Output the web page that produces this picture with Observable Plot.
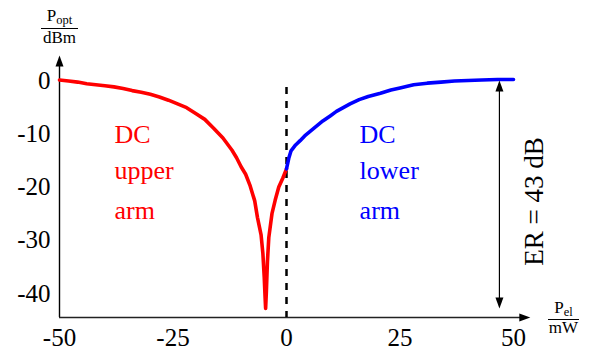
<!DOCTYPE html>
<html>
<head>
<meta charset="utf-8">
<script src="https://cdn.jsdelivr.net/npm/d3@7"></script>
<script src="https://cdn.jsdelivr.net/npm/@observablehq/plot@0.6"></script>
<style>
  html, body { margin: 0; padding: 0; background: #fff; }
  #wrap { position: relative; width: 591px; height: 350px; }
  .lab { position: absolute; width: 50px; text-align: center; font-family: 'Liberation Serif', serif; font-size: 17px; line-height: 17px; color: #000; white-space: nowrap; }
  .lab sub { font-size: 12.5px; vertical-align: -3px; line-height: 0; }
  .bar { position: absolute; height: 0; border-top: 1px solid #000; }
</style>
</head>
<body>
<div id="wrap">
  <div class="lab" style="left:34.5px;top:6.7px">P<sub>opt</sub></div>
  <div class="bar" style="left:41px;top:28px;width:37px"></div>
  <div class="lab" style="left:34.5px;top:28.7px">dBm</div>
  <div class="lab" style="left:538.5px;top:298.7px">P<sub>el</sub></div>
  <div class="bar" style="left:548px;top:318.5px;width:31px"></div>
  <div class="lab" style="left:538.5px;top:318.7px">mW</div>
</div>
<script>
// ---- data ----
const upperX = [-50, -48, -46, -44, -42, -40, -38, -36, -34, -32, -30, -28, -26, -24, -22, -20, -18, -16, -14, -12, -11, -10, -9, -8, -7, -6.4, -5.6, -5.2, -4.9, -4.7, -4.6, -4.45, -4.2, -3.9, -3.2, -2.5, -1.7, -0.8, 0];
const upperY = [0.1, -0.1, -0.3, -0.6, -0.8, -1.0, -1.2, -1.5, -1.9, -2.2, -2.6, -3.1, -3.7, -4.4, -5.1, -6.2, -7.3, -9.0, -10.8, -13.1, -14.5, -16.2, -17.6, -19.8, -22.6, -25.7, -29, -32.5, -37, -41, -42.8, -40, -34, -29.5, -25, -22.5, -20, -18.3, -16.6];
const lowerX = [0, 0.5, 1, 2, 3, 4, 5, 6, 7, 8, 9.7, 11, 12.5, 14, 16, 18, 20.7, 23, 25, 28, 31, 34, 37, 40, 43, 46.5, 50];
const lowerY = [-16.6, -14.6, -13.2, -12.1, -11.3, -10.4, -9.7, -9.0, -8.3, -7.6, -6.6, -5.8, -5.1, -4.4, -3.6, -3.0, -2.4, -1.8, -1.4, -0.8, -0.5, -0.3, -0.1, 0.0, 0.1, 0.2, 0.2];
const xTicks = [-50, -25, 0, 25, 50];
const yTicks = [0, -10, -20, -30, -40];
const upperLabel = ["DC", "upper", "arm"];
const lowerLabel = ["DC", "lower", "arm"];
const labelY = [-10.1, -16.85, -24.35];
const erTop = 0;
const erBottom = -42.8;
const erLabel = "ER = 43 dB";

const upper = upperX.map((x, i) => ({x, y: upperY[i]}));
const lower = lowerX.map((x, i) => ({x, y: lowerY[i]}));

// filled arrow-head symbols (tip at the origin)
const headUp = {draw(c) { c.moveTo(0, 0); c.lineTo(-4, 11); c.lineTo(4, 11); c.closePath(); }};
const headDown = {draw(c) { c.moveTo(0, 0); c.lineTo(-4, -11); c.lineTo(4, -11); c.closePath(); }};
const headRight = {draw(c) { c.moveTo(0, 0); c.lineTo(-11, -4); c.lineTo(-11, 4); c.closePath(); }};

const FONT = "Liberation Serif";
const xMin = -50, yMin = -44.5, yAxisTop = 4.7, xAxisEnd = 53.7;

const chart = Plot.plot({
  width: 591,
  height: 350,
  marginLeft: 59,
  marginRight: 78,
  marginTop: 80,
  marginBottom: 33,
  x: {domain: [-50, 50], ticks: xTicks, tickSize: 0, tickPadding: 11, tickFormat: d => String(d), label: null},
  y: {domain: [yMin, 0], ticks: yTicks, tickSize: 0, tickPadding: 9, tickFormat: d => String(d), label: null},
  marks: [
    // axes lines
    Plot.ruleX([0], {x: xMin, y1: yMin, y2: yAxisTop - 1, stroke: "black", strokeWidth: 1.4}),
    Plot.ruleY([0], {y: yMin, x1: xMin, x2: xAxisEnd - 1, stroke: "#222", strokeWidth: 1.6}),
    Plot.dot([0], {x: xMin, y: yAxisTop, symbol: headUp, fill: "black", stroke: "none"}),
    Plot.dot([0], {x: xAxisEnd, y: yMin, symbol: headRight, fill: "black", stroke: "none"}),
    // dashed line at 0
    Plot.ruleX([0], {x: 0, y1: -1.3, y2: yMin, stroke: "black", strokeWidth: 2.5, strokeDasharray: "7,7"}),
    // curves
    Plot.line(upper, {x: "x", y: "y", stroke: "#ff0000", strokeWidth: 3.6}),
    Plot.line(lower, {x: "x", y: "y", stroke: "#0000ff", strokeWidth: 3.6}),
    // ER arrow
    Plot.ruleX([0], {x: 46.9, y1: erTop - 1.5, y2: erBottom + 1.5, stroke: "black", strokeWidth: 1.2}),
    Plot.dot([0], {x: 46.9, y: erTop, symbol: headUp, fill: "black", stroke: "none"}),
    Plot.dot([0], {x: 46.9, y: erBottom, symbol: headDown, fill: "black", stroke: "none"}),
    Plot.text([erLabel], {x: 54.6, y: -22.7, text: d => d, rotate: -90, fontSize: 27, fontFamily: FONT, fill: "black", textAnchor: "middle"}),
    // labels
    Plot.text(upperLabel, {x: -37.9, y: (d, i) => labelY[i], text: d => d, textAnchor: "start", fontSize: 26, fontFamily: FONT, fill: "#ff0000"}),
    Plot.text(lowerLabel, {x: 16.1, y: (d, i) => labelY[i], text: d => d, textAnchor: "start", fontSize: 26, fontFamily: FONT, fill: "#0000ff"})
  ]
});

const svg = d3.select(chart);
svg.attr("font-family", FONT).attr("font-size", 25);
const wrap = document.getElementById("wrap");
wrap.insertBefore(chart, wrap.firstChild);
</script>
</body>
</html>
